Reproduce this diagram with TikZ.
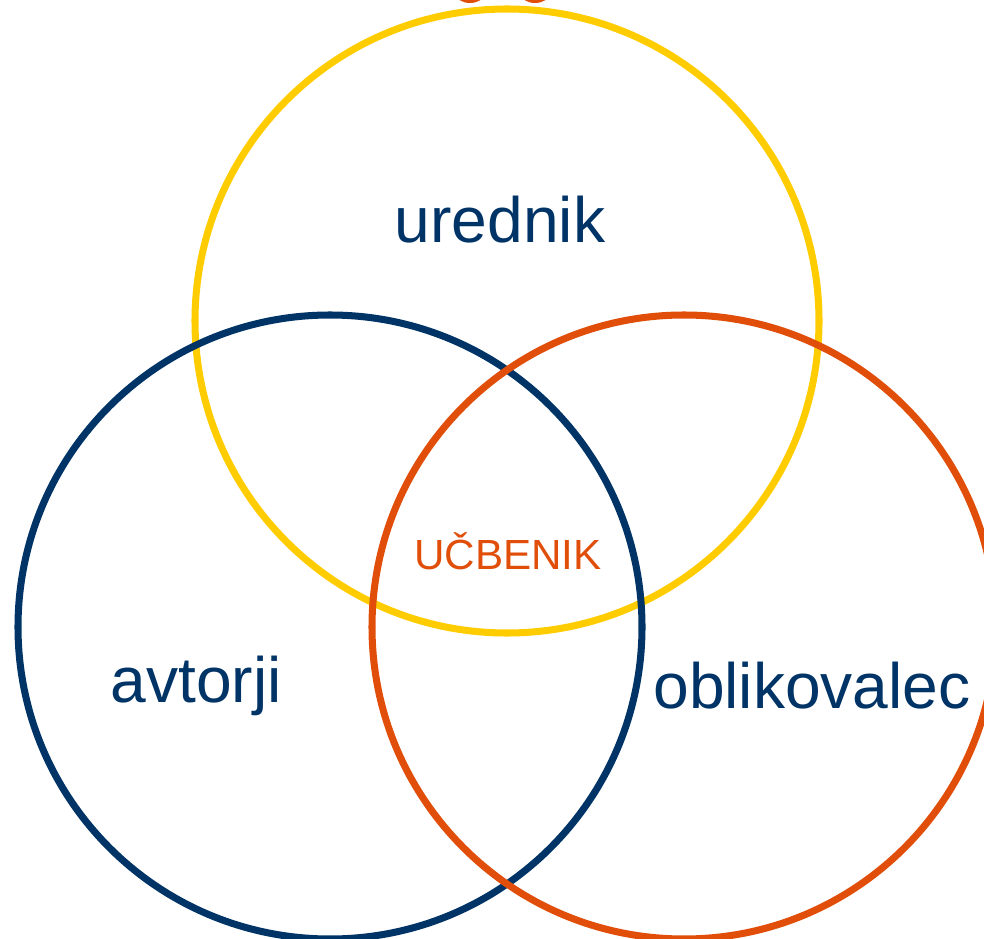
\documentclass[tikz,border=0pt]{standalone}
\usepackage{fontspec}
\setmainfont{Liberation Sans}
\definecolor{darkblue}{HTML}{003366}
\definecolor{sunyellow}{HTML}{FFCC00}
\definecolor{rustorange}{HTML}{E04E0A}
\tikzset{
  ring/.style={line width=4pt},
  label/.style={text=darkblue, font=\fontsize{36.5}{40}\selectfont}
}
\begin{document}
\begin{tikzpicture}[x=0.02cm, y=-0.02cm]
      \useasboundingbox (0,0) rectangle (984,939);
      \begin{scope}
        \clip (0,0) rectangle (984,939);
        \fill[rustorange] (470,-6) ellipse (14 and 9);
        \fill[rustorange] (535,-6) ellipse (14 and 9);
        \draw[ring, sunyellow] (507,321) circle (312);
        \draw[ring, darkblue] (330,627) circle (312);
        \draw[ring, rustorange] (684,627) circle (312);
      \end{scope}
      \draw
        (500,220) node[label] (urednik){urednik}
        (196,686) node[label] (avtorji){avtorji}
        (812,686) node[label] (oblikovalec){oblikovalec}
        (508,551) node[text=rustorange, font=\fontsize{24}{28}\selectfont] (ucbenik){UČBENIK};
    \end{tikzpicture}
\end{document}
